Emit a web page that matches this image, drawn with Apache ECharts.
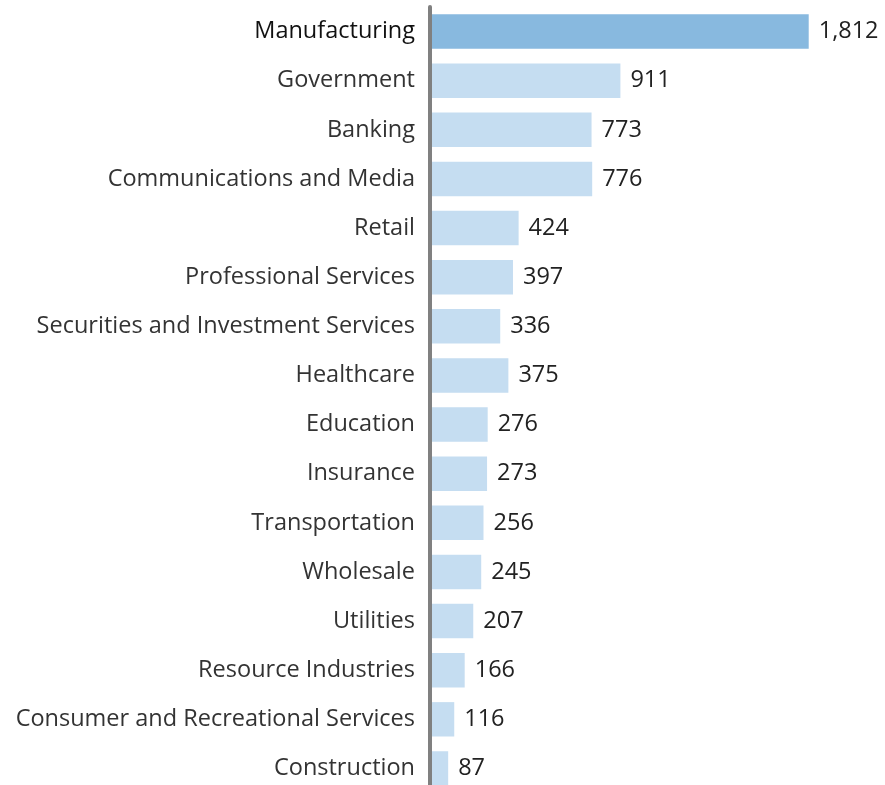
<!DOCTYPE html>
<html><head><meta charset="utf-8">
<script src="https://cdn.jsdelivr.net/npm/echarts@6/dist/echarts.min.js"></script>
<style>html,body{margin:0;padding:0;background:#fff;overflow:hidden}#c{width:885px;height:794px}</style>
</head><body><div id="c"></div>
<script>
const categories = ["Manufacturing","Government","Banking","Communications and Media","Retail","Professional Services","Securities and Investment Services","Healthcare","Education","Insurance","Transportation","Wholesale","Utilities","Resource Industries","Consumer and Recreational Services","Construction"];
const values = [1812,911,773,776,424,397,336,375,276,273,256,245,207,166,116,87];
const highlightColor = '#88b9df';
const barColor = '#c5ddf1';
const chart = echarts.init(document.getElementById('c'), null, {renderer:'canvas'});
const fontFamily = '"Open Sans", sans-serif';
chart.setOption({
  animation:false,
  grid:{left:430, top:7, height:786, width:418},
  xAxis:{type:'value', min:0, max:2000, show:false},
  yAxis:{type:'category', data:categories, inverse:true,
    axisLine:{show:true, lineStyle:{color:'#808080', width:4}},
    axisTick:{show:false},
    axisLabel:{margin:15, fontSize:23.5, color:'#333', fontFamily:fontFamily,
      formatter:(v,i)=> i===0 ? '{b|'+v+'}' : v,
      rich:{b:{fontSize:23.5, color:'#111', fontFamily:fontFamily}}},
    z:5},
  series:[{type:'bar', barWidth:'70%',
    data: values.map((v,i)=>({value:v, itemStyle:{color: i===0?highlightColor:barColor}})),
    label:{show:true, position:'right', distance:10, fontSize:23.5, color:'#222', fontFamily:fontFamily,
      formatter:p=>p.value.toLocaleString('en-US')}
  }]
});
</script></body></html>
